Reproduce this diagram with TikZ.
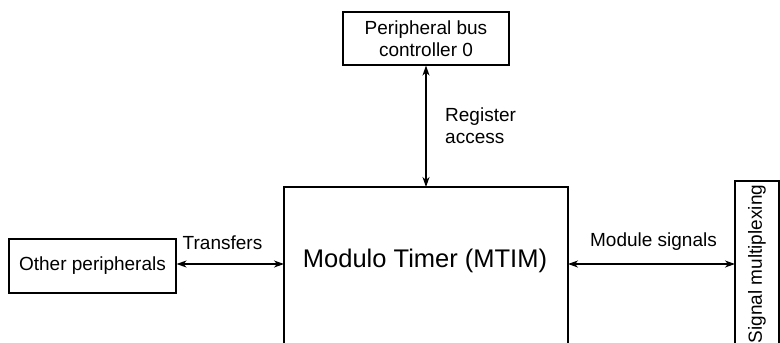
\documentclass[tikz,border=0pt]{standalone}
\usepackage{fontspec}
\setmainfont{Liberation Sans}
\usetikzlibrary{arrows.meta}
\begin{document}
\begin{tikzpicture}[x=1pt,y=-1pt,
  blk/.style={draw, line width=1.1pt, inner sep=0pt, align=center, font=\fontsize{19}{22}\selectfont},
  lbl/.style={inner sep=0pt, align=left, font=\fontsize{19}{22}\selectfont},
  conn/.style={line width=1.2pt, {Stealth[length=10pt,width=7pt,inset=3pt]}-{Stealth[length=10pt,width=7pt,inset=3pt]}}]
\useasboundingbox (0,0) rectangle (780,343);
\node[blk, minimum width=166pt, minimum height=53pt] (pbc) at (426,38.5) {Peripheral bus\\controller 0};
\node[blk, minimum width=284pt, minimum height=160pt] (mtim) at (426,267) {};
\node[inner sep=0pt, font=\fontsize{25.5}{30}\selectfont] (mtxt) at (425,261) {Modulo Timer (MTIM)};
\node[blk, minimum width=167pt, minimum height=54pt] (oth) at (92.5,266) {Other peripherals};
\node[blk, minimum width=44pt, minimum height=170pt] (sig) at (757,266) {};
\node[lbl, rotate=90] (sigt) at (757,264) {Signal multiplexing};
\coordinate (mtop) at (426,187);
\coordinate (mleft) at (284,264);
\coordinate (mright) at (568,264);
\coordinate (sleft) at (735,264);
\coordinate (oright) at (176,264);
\draw[conn] (pbc.south) -- (mtop);
\draw[conn] (oth.east |- mleft) -- (mleft);
\draw[conn] (mright) -- (sleft);
\node[lbl, anchor=west] (ra) at (445,126) {Register\\access};
\node[lbl] (tr) at (222.5,243) {Transfers};
\node[lbl] (ms) at (653.5,242) {Module signals};
\end{tikzpicture}
\end{document}
